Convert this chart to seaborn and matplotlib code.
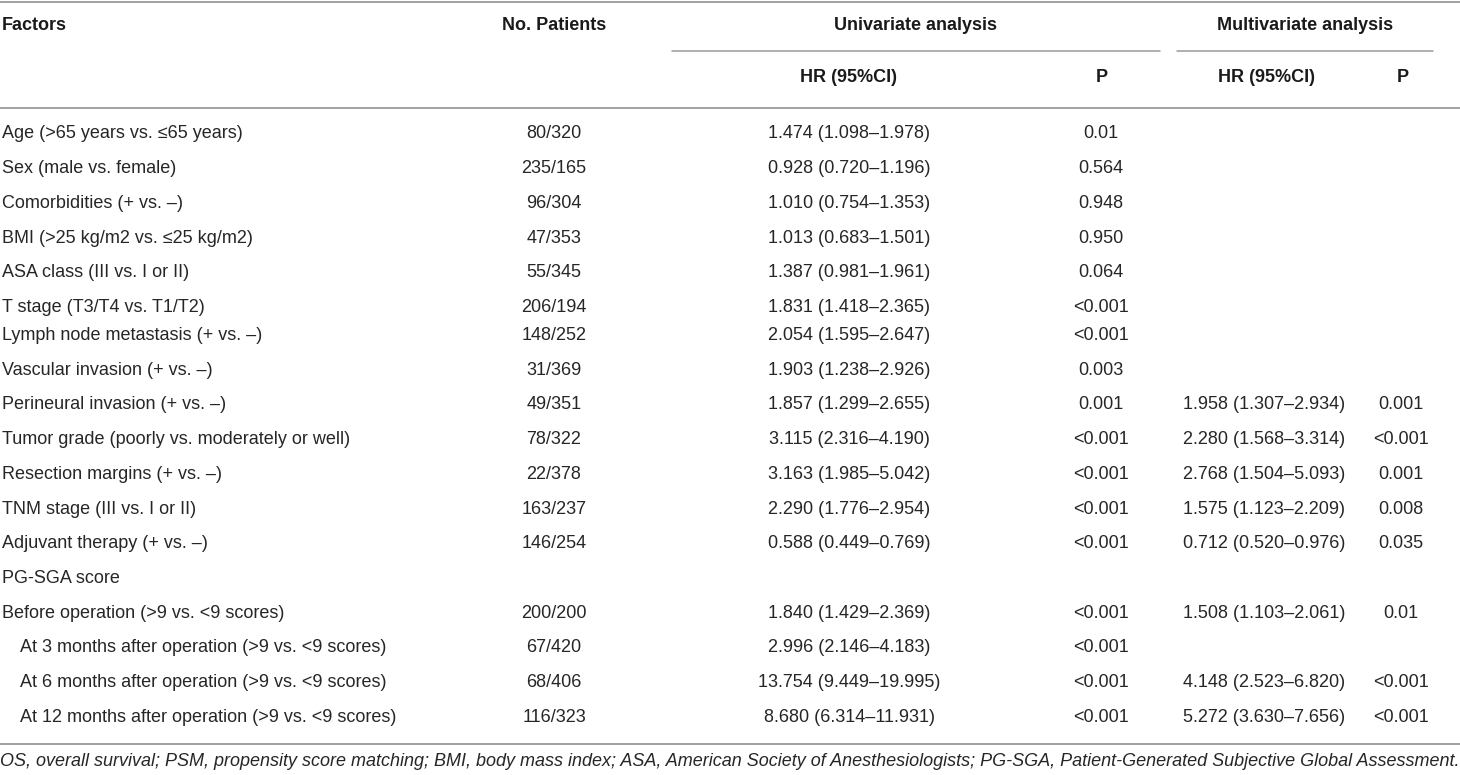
import numpy as np
import pandas as pd
import seaborn as sns
import matplotlib.pyplot as plt

factors = [
    "Age (>65 years vs. ≤65 years)",
    "Sex (male vs. female)",
    "Comorbidities (+ vs. –)",
    "BMI (>25 kg/m2 vs. ≤25 kg/m2)",
    "ASA class (III vs. I or II)",
    "T stage (T3/T4 vs. T1/T2)",
    "Lymph node metastasis (+ vs. –)",
    "Vascular invasion (+ vs. –)",
    "Perineural invasion (+ vs. –)",
    "Tumor grade (poorly vs. moderately or well)",
    "Resection margins (+ vs. –)",
    "TNM stage (III vs. I or II)",
    "Adjuvant therapy (+ vs. –)",
    "PG-SGA score",
    "Before operation (>9 vs. <9 scores)",
    "At 3 months after operation (>9 vs. <9 scores)",
    "At 6 months after operation (>9 vs. <9 scores)",
    "At 12 months after operation (>9 vs. <9 scores)",
]
patients = ["80/320", "235/165", "96/304", "47/353", "55/345", "206/194",
            "148/252", "31/369", "49/351", "78/322", "22/378", "163/237",
            "146/254", "", "200/200", "67/420", "68/406", "116/323"]
uni_hr = ["1.474 (1.098–1.978)", "0.928 (0.720–1.196)", "1.010 (0.754–1.353)",
          "1.013 (0.683–1.501)", "1.387 (0.981–1.961)", "1.831 (1.418–2.365)",
          "2.054 (1.595–2.647)", "1.903 (1.238–2.926)", "1.857 (1.299–2.655)",
          "3.115 (2.316–4.190)", "3.163 (1.985–5.042)", "2.290 (1.776–2.954)",
          "0.588 (0.449–0.769)", "", "1.840 (1.429–2.369)", "2.996 (2.146–4.183)",
          "13.754 (9.449–19.995)", "8.680 (6.314–11.931)"]
uni_p = ["0.01", "0.564", "0.948", "0.950", "0.064", "<0.001", "<0.001", "0.003",
         "0.001", "<0.001", "<0.001", "<0.001", "<0.001", "", "<0.001", "<0.001",
         "<0.001", "<0.001"]
multi_hr = ["", "", "", "", "", "", "", "", "1.958 (1.307–2.934)",
            "2.280 (1.568–3.314)", "2.768 (1.504–5.093)", "1.575 (1.123–2.209)",
            "0.712 (0.520–0.976)", "", "1.508 (1.103–2.061)", "",
            "4.148 (2.523–6.820)", "5.272 (3.630–7.656)"]
multi_p = ["", "", "", "", "", "", "", "", "0.001", "<0.001", "0.001", "0.008",
           "0.035", "", "0.01", "", "<0.001", "<0.001"]

footnote = ("OS, overall survival; PSM, propensity score matching; BMI, body mass index; "
            "ASA, American Society of Anesthesiologists; PG-SGA, "
            "Patient-Generated Subjective Global Assessment.")

df = pd.DataFrame({"Factors": factors, "No. Patients": patients,
                   "uni_hr": uni_hr, "uni_p": uni_p,
                   "multi_hr": multi_hr, "multi_p": multi_p})

sns.set_theme(style="white")
plt.rcParams["font.family"] = ["Liberation Sans", "DejaVu Sans"]

fig = plt.figure(figsize=(14.6, 7.75), dpi=100)
ax = fig.add_axes([0, 0, 1, 1])
ax.set_xlim(0, 1460)
ax.set_ylim(775, 0)
ax.axis("off")

txt = "#262626"
head = "#1a1a1a"
line_c = "#9a9a9a"
fs = 13

# header
ax.text(2, 26, "Factors", fontsize=fs, fontweight="bold", color=head, va="center")
ax.text(554, 26, "No. Patients", fontsize=fs, fontweight="bold", color=head,
        va="center", ha="center")
ax.text(916, 26, "Univariate analysis", fontsize=fs, fontweight="bold", color=head,
        va="center", ha="center")
ax.text(1305, 26, "Multivariate analysis", fontsize=fs, fontweight="bold", color=head,
        va="center", ha="center")
for x, s in [(849, "HR (95%CI)"), (1102, "P"), (1266, "HR (95%CI)"), (1403, "P")]:
    ax.text(x, 78, s, fontsize=fs, fontweight="bold", color=head, va="center", ha="center")

ax.plot([0, 1460], [1.5, 1.5], color=line_c, lw=1.3)
ax.plot([672, 1160], [51, 51], color=line_c, lw=1.1)
ax.plot([1177, 1433], [51, 51], color=line_c, lw=1.1)
ax.plot([0, 1460], [108, 108], color=line_c, lw=1.3)

# rows; the lymph node row sits a bit closer to the T stage row
for i, row in df.iterrows():
    y = 134 + 34.7 * i - (6.7 if i >= 6 else 0)
    indent = 20 if row["Factors"].startswith("At ") else 2
    ax.text(indent, y, row["Factors"], fontsize=fs, color=txt, va="center")
    ax.text(554, y, row["No. Patients"], fontsize=fs, color=txt, va="center", ha="center")
    ax.text(849, y, row["uni_hr"], fontsize=fs, color=txt, va="center", ha="center")
    ax.text(1101, y, row["uni_p"], fontsize=fs, color=txt, va="center", ha="center")
    ax.text(1264, y, row["multi_hr"], fontsize=fs, color=txt, va="center", ha="center")
    ax.text(1401, y, row["multi_p"], fontsize=fs, color=txt, va="center", ha="center")

ax.plot([0, 1460], [744, 744], color=line_c, lw=1.3)
ax.text(0, 762, footnote, fontsize=fs, style="italic", color=txt, va="center")

fig.savefig("out.png", dpi=100)
